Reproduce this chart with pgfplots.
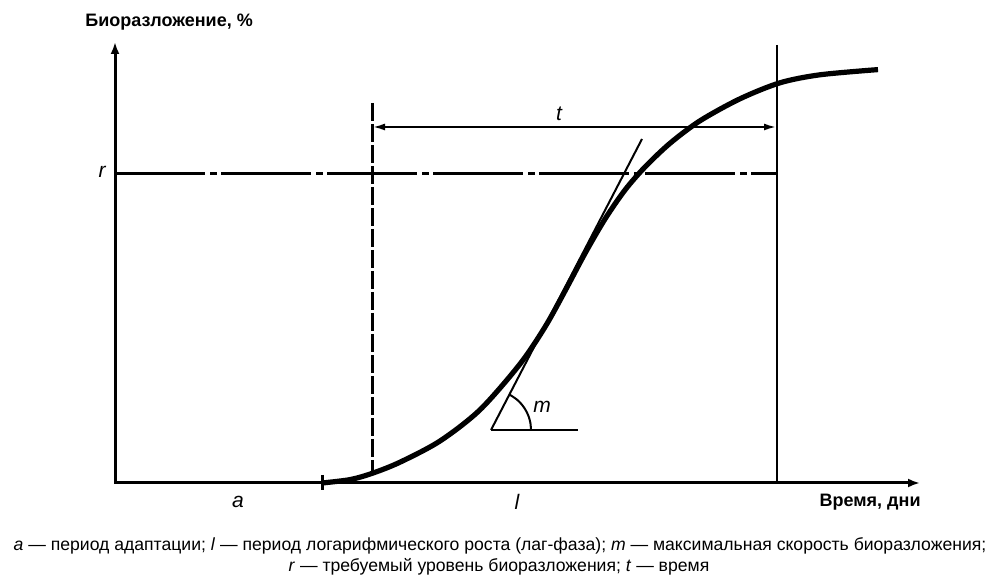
\documentclass[border=0pt]{standalone}
\usepackage{fontspec}
\setmainfont{Liberation Sans}
\usepackage{pgfplots}
\pgfplotsset{compat=1.18}
\usetikzlibrary{arrows.meta}
\begin{document}
\begin{tikzpicture}
\begin{axis}[
  width=498pt, height=286.5pt, scale only axis,
  xmin=0, xmax=996, ymin=0, ymax=573, y dir=reverse,
  hide axis, clip=false,
]
\path (rel axis cs:0,0) rectangle (rel axis cs:1,1);
% axes
\addplot[black, line width=1.5pt, line join=miter, {Latex[length=6pt,width=4.5pt]}-{Latex[length=6pt,width=4.5pt]}] coordinates {(115,42) (115,483) (920,483)};
% tick at start of curve
\addplot[black, line width=1.5pt] coordinates {(322,475) (322,490)};
% dashed vertical line
\addplot[black, line width=1.5pt, dash pattern=on 9pt off 1.5pt] coordinates {(372,103) (372,474)};
% solid vertical line
\addplot[black, line width=1pt] coordinates {(777,45) (777,483)};
% required level r
\addplot[black, line width=1.5pt, dash pattern=on 45pt off 2.5pt on 3.5pt off 2pt] coordinates {(115,174) (777,174)};
% t arrow
\addplot[black, line width=0.9pt, {Latex[length=6pt,width=3.5pt]}-{Latex[length=6pt,width=3.5pt]}] coordinates {(373,127) (776,127)};
% tangent
\addplot[black, line width=1pt] coordinates {(491,430) (642,139)};
% angle base
\addplot[black, line width=1.2pt] coordinates {(491,430) (578,430)};
% angle arc
\addplot[black, line width=1pt, smooth] coordinates {(531,430) (530.4,423) (528.6,416.3) (525.6,410) (521.6,404.3) (516.7,399.4) (509.5,394.5)};
% curve
\addplot[black, line width=2.6pt, smooth] coordinates {
(322,483) (350,479.6) (372,473.4) (400,462.2) (440,441) (480,409.8)
(520,364) (545,327) (565,291) (585,253.4) (605,219) (625,190) (645,167)
(670,143.3) (700,120.8) (740,98.8) (780,82.8) (820,74.8) (878,69.6)};
% labels
\node[font=\bfseries\fontsize{9}{10}\selectfont, anchor=west, inner sep=0pt] at (axis cs:85,22) {Биоразложение, \%};
\node[font=\bfseries\fontsize{9}{10}\selectfont, anchor=east, inner sep=0pt] at (axis cs:921,502) {Время, дни};
\node[font=\itshape\fontsize{10.5}{12}\selectfont, inner sep=0pt] at (axis cs:102,172) {r};
\node[font=\itshape\fontsize{10.5}{12}\selectfont, inner sep=0pt] at (axis cs:559,114) {t};
\node[font=\itshape\fontsize{10.5}{12}\selectfont, inner sep=0pt] at (axis cs:238,502) {a};
\node[font=\itshape\fontsize{10.5}{12}\selectfont, inner sep=0pt] at (axis cs:517,502) {l};
\node[font=\itshape\fontsize{10.5}{12}\selectfont, inner sep=0pt] at (axis cs:542,407) {m};
\node[font=\fontsize{8.8}{10}\selectfont, inner sep=0pt] at (axis cs:500,546) {\textit{a} — период адаптации; \textit{l} — период логарифмического роста (лаг-фаза); \textit{m} — максимальная скорость биоразложения;};
\node[font=\fontsize{8.8}{10}\selectfont, inner sep=0pt] at (axis cs:499,567) {\textit{r} — требуемый уровень биоразложения; \textit{t} — время};
\end{axis}
\end{tikzpicture}
\end{document}
